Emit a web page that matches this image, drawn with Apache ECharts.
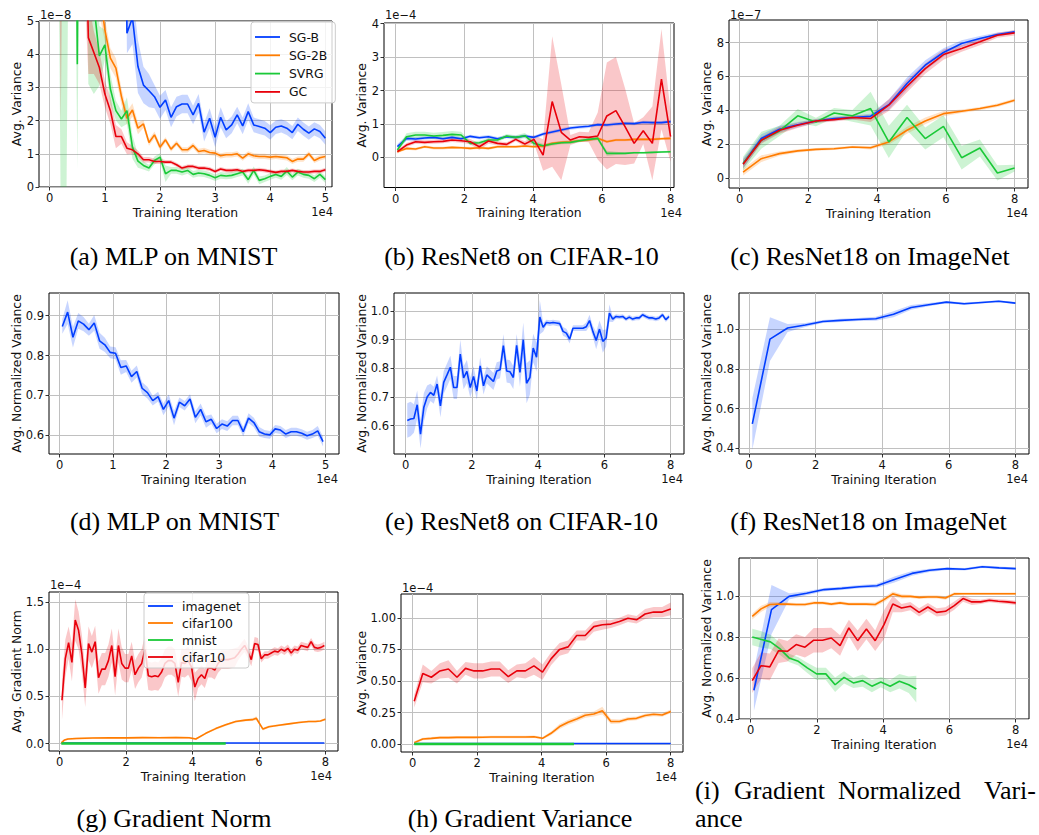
<!DOCTYPE html>
<html>
<head>
<meta charset="utf-8">
<script src="https://cdn.jsdelivr.net/npm/echarts@6/dist/echarts.min.js"></script>
<style>html,body{margin:0;padding:0;background:#fff}#c{width:1039px;height:835px}</style>
</head>
<body>
<div id="c"></div>
<script>
// ---------------- DATA (x in units of 1e4 iterations; y in the axis' offset units) ----------------
const X_TICKS_5 = [0,1,2,3,4,5];
const X_TICKS_8 = [0,2,4,6,8];
const Y_TICKS_A = [0,1,2,3,4,5];
const Y_TICKS_B = [0,1,2,3,4];
const Y_TICKS_C = [0,2,4,6,8];
const Y_TICKS_D = [0.6,0.7,0.8,0.9];
const Y_TICKS_E = [0.6,0.7,0.8,0.9,1.0];
const Y_TICKS_F = [0.4,0.6,0.8,1.0];
const Y_TICKS_G = [0,0.5,1.0,1.5];
const Y_TICKS_H = [0,0.25,0.5,0.75,1.0];
const Y_TICKS_I = [0.4,0.6,0.8,1.0];

// (a) MLP on MNIST, avg variance (1e-8)
const a_x = [0.1,0.2,0.3,0.4,0.5,0.6,0.7,0.8,0.9,1.0,1.1,1.2,1.3,1.4,1.5,1.6,1.7,1.8,1.9,2.0,2.1,2.2,2.3,2.4,2.5,2.6,2.7,2.8,2.9,3.0,3.1,3.2,3.3,3.4,3.5,3.6,3.7,3.8,3.9,4.0,4.1,4.2,4.3,4.4,4.5,4.6,4.7,4.8,4.9,5.0];
const a_sgb = [30,30,30,30,30,30,30,30,30,30,30,30,30,4.63,5.1,3.63,3.07,2.9,2.72,2.4,2.62,2.1,2.42,2.5,2.5,2.17,2.52,1.65,2.07,1.5,2.1,1.72,1.87,2.17,1.84,2.27,1.87,1.82,1.77,1.64,1.8,1.84,1.77,1.64,1.89,1.74,1.62,1.75,1.67,1.47];
const a_sgb_sd = [10,10,10,10,10,10,10,10,10,10,10,10,10,0.6,0.8,0.8,0.55,0.5,0.35,0.35,0.3,0.3,0.3,0.28,0.28,0.28,0.28,0.28,0.3,0.3,0.3,0.25,0.25,0.25,0.25,0.25,0.22,0.22,0.22,0.22,0.2,0.2,0.2,0.2,0.2,0.2,0.2,0.2,0.2,0.2];
const a_sg2b = [30,30,30,30,30,30,30,30,6,4.73,3.88,3.58,2.73,2.07,2.32,1.77,1.9,1.34,1.57,1.2,1.42,1.14,1.32,1.12,1.12,1.25,1.07,1.1,1.04,1.02,0.94,0.97,0.97,1.0,0.87,1.0,0.94,0.92,0.92,0.9,0.92,0.9,0.88,0.77,0.84,0.84,1.0,0.8,0.88,0.92];
const a_sg2b_sd = [10,10,10,10,10,10,10,10,0.8,0.35,0.3,0.3,0.25,0.2,0.2,0.18,0.12,0.1,0.1,0.1,0.08,0.08,0.08,0.08,0.08,0.08,0.08,0.08,0.08,0.08,0.08,0.08,0.08,0.08,0.08,0.08,0.08,0.08,0.08,0.08,0.08,0.08,0.08,0.08,0.08,0.08,0.08,0.08,0.08,0.08];
const a_svrg = [30,30,30,30,3.7,30,8,5.5,3.95,4.28,2.95,2.3,2.05,2.3,1.2,0.78,0.65,0.57,0.8,0.9,0.4,0.5,0.5,0.45,0.5,0.38,0.42,0.4,0.35,0.28,0.35,0.33,0.35,0.4,0.45,0.22,0.5,0.2,0.25,0.32,0.38,0.32,0.48,0.3,0.45,0.38,0.35,0.25,0.38,0.22];
const a_svrg_sd = [10,31,31,10,3.2,10,4.9,2.7,0.9,0.45,0.45,0.3,0.25,0.4,0.35,0.2,0.12,0.1,0.12,0.12,0.25,0.1,0.1,0.1,0.1,0.1,0.1,0.1,0.1,0.1,0.1,0.1,0.1,0.1,0.1,0.12,0.12,0.12,0.1,0.1,0.1,0.1,0.12,0.1,0.1,0.1,0.1,0.1,0.1,0.1];
const a_gc = [30,30,30,30,30,12,4.5,4.05,3.6,2.8,2.3,1.52,1.52,1.17,1.12,1.0,0.82,0.82,0.77,0.77,0.75,0.75,0.67,0.57,0.62,0.62,0.57,0.57,0.54,0.47,0.54,0.5,0.5,0.52,0.47,0.5,0.5,0.52,0.5,0.47,0.44,0.47,0.47,0.5,0.47,0.45,0.45,0.47,0.47,0.52];
const a_gc_sd = [10,28.1,10,10,10,5,1.1,0.65,0.5,0.4,0.4,0.35,0.22,0.18,0.12,0.1,0.08,0.08,0.08,0.08,0.06,0.06,0.06,0.06,0.06,0.06,0.06,0.06,0.06,0.06,0.06,0.06,0.06,0.06,0.06,0.06,0.06,0.06,0.06,0.06,0.06,0.06,0.06,0.06,0.06,0.06,0.06,0.06,0.06,0.06];

// (b) ResNet8 on CIFAR-10, avg variance (1e-4)
const b_x = [0.05,0.315,0.58,0.845,1.11,1.375,1.64,1.905,2.17,2.435,2.7,2.965,3.23,3.495,3.76,4.025,4.29,4.555,4.82,5.085,5.35,5.615,5.88,6.145,6.41,6.675,6.94,7.205,7.47,7.735,8.0];
const b_sgb = [0.32,0.57,0.55,0.58,0.6,0.56,0.6,0.56,0.63,0.59,0.62,0.56,0.62,0.6,0.64,0.6,0.7,0.76,0.82,0.88,0.91,0.93,0.98,0.97,1.0,1.02,1.01,1.05,1.04,1.04,1.07];
const b_sgb_sd = [0.08,0.07,0.06,0.05,0.05,0.05,0.05,0.05,0.05,0.05,0.05,0.05,0.05,0.05,0.05,0.05,0.05,0.05,0.05,0.05,0.05,0.05,0.05,0.05,0.05,0.05,0.05,0.05,0.05,0.05,0.05];
const b_sg2b = [0.17,0.27,0.25,0.32,0.28,0.28,0.3,0.29,0.27,0.29,0.27,0.32,0.32,0.32,0.34,0.32,0.34,0.42,0.45,0.47,0.5,0.52,0.57,0.47,0.52,0.52,0.54,0.54,0.54,0.56,0.57];
const b_sg2b_sd = [0.04,0.04,0.04,0.04,0.04,0.04,0.04,0.04,0.04,0.04,0.04,0.04,0.04,0.04,0.04,0.04,0.04,0.04,0.04,0.04,0.04,0.04,0.04,0.04,0.04,0.04,0.04,0.04,0.04,0.04,0.04];
const b_svrg = [0.22,0.62,0.67,0.67,0.64,0.66,0.69,0.67,0.42,0.44,0.52,0.52,0.64,0.6,0.65,0.42,0.35,0.4,0.44,0.45,0.5,0.54,0.57,0.12,0.12,0.12,0.14,0.14,0.15,0.16,0.17];
const b_svrg_sd = [0.05,0.1,0.1,0.1,0.1,0.1,0.1,0.1,0.06,0.06,0.06,0.06,0.06,0.06,0.08,0.08,0.06,0.05,0.05,0.05,0.05,0.06,0.06,0.08,0.05,0.03,0.03,0.03,0.03,0.03,0.03];
const b_gc = [0.17,0.37,0.47,0.45,0.47,0.48,0.52,0.5,0.47,0.32,0.49,0.42,0.39,0.54,0.4,0.54,0.07,1.67,0.75,0.52,0.62,0.6,0.64,1.24,1.4,0.92,0.42,0.8,0.42,2.34,0.62];
const b_gc_sd = [0.05,0.06,0.06,0.06,0.06,0.06,0.06,0.06,0.08,0.1,0.08,0.06,0.06,0.06,0.08,0.12,0.47,1.95,1.43,0.15,0.15,0.15,0.7,1.6,1.6,1.15,0.6,0.4,1.1,1.5,0.75];

// (c) ResNet18 on ImageNet, avg variance (1e-7)
const c_x = [0.1,0.63,1.16,1.69,2.22,2.75,3.28,3.81,4.34,4.87,5.4,5.93,6.46,6.99,7.5,8.0];
const c_sgb = [0.85,2.33,2.88,3.15,3.37,3.51,3.57,3.65,4.33,5.58,6.66,7.41,7.94,8.24,8.47,8.63];
const c_sgb_sd = [0.3,0.25,0.2,0.15,0.12,0.12,0.12,0.15,0.3,0.35,0.3,0.25,0.2,0.15,0.12,0.1];
const c_sg2b = [0.35,1.14,1.44,1.6,1.69,1.73,1.83,1.79,2.13,2.82,3.37,3.8,3.94,4.1,4.3,4.59];
const c_sg2b_sd = [0.2,0.2,0.12,0.1,0.08,0.08,0.08,0.1,0.15,0.2,0.2,0.15,0.1,0.1,0.1,0.1];
const c_svrg = [0.85,2.23,2.78,3.67,3.31,3.84,3.67,4.1,2.13,3.57,2.33,3.05,1.2,1.77,0.3,0.59];
const c_svrg_sd = [0.4,0.5,0.3,0.4,0.25,0.3,0.35,1.0,0.95,0.75,0.65,0.65,0.7,0.5,0.45,0.2];
const c_gc = [0.81,2.23,2.82,3.11,3.37,3.45,3.57,3.51,4.3,5.42,6.46,7.29,7.65,8.04,8.43,8.57];
const c_gc_sd = [0.25,0.2,0.2,0.15,0.12,0.12,0.12,0.2,0.35,0.35,0.3,0.3,0.2,0.2,0.15,0.15];

// (d) MLP on MNIST, avg normalized variance
const d_x = [0.05,0.15,0.25,0.35,0.45,0.55,0.65,0.75,0.85,0.95,1.05,1.15,1.25,1.35,1.45,1.55,1.65,1.75,1.85,1.95,2.05,2.15,2.25,2.35,2.45,2.55,2.65,2.75,2.85,2.95,3.05,3.15,3.25,3.35,3.45,3.55,3.65,3.75,3.85,3.95,4.05,4.15,4.25,4.35,4.45,4.55,4.65,4.75,4.85,4.95];
const d_val = [0.873,0.909,0.846,0.887,0.879,0.865,0.882,0.837,0.827,0.808,0.806,0.770,0.774,0.747,0.760,0.718,0.707,0.687,0.697,0.665,0.687,0.643,0.683,0.674,0.691,0.645,0.665,0.634,0.640,0.617,0.628,0.623,0.637,0.637,0.609,0.643,0.632,0.609,0.603,0.601,0.616,0.613,0.603,0.609,0.609,0.605,0.599,0.603,0.611,0.584];
const d_sd = [0.018,0.03,0.026,0.02,0.018,0.015,0.02,0.02,0.018,0.015,0.015,0.018,0.015,0.015,0.015,0.015,0.015,0.012,0.012,0.015,0.015,0.018,0.012,0.012,0.012,0.015,0.015,0.015,0.012,0.012,0.012,0.012,0.012,0.012,0.012,0.012,0.012,0.012,0.01,0.01,0.01,0.01,0.01,0.01,0.01,0.01,0.01,0.01,0.012,0.012];

// (e) ResNet8 on CIFAR-10, avg normalized variance
const e_x = [0.05,0.15,0.25,0.35,0.45,0.55,0.65,0.75,0.85,0.95,1.05,1.15,1.25,1.35,1.45,1.55,1.65,1.75,1.85,1.95,2.05,2.15,2.25,2.35,2.45,2.55,2.65,2.75,2.85,2.95,3.05,3.15,3.25,3.35,3.45,3.55,3.65,3.75,3.85,3.95,4.05,4.15,4.25,4.35,4.45,4.55,4.65,4.75,4.85,4.95,5.05,5.15,5.25,5.35,5.45,5.55,5.65,5.75,5.85,5.95,6.05,6.15,6.25,6.35,6.45,6.55,6.65,6.75,6.85,6.95,7.05,7.15,7.25,7.35,7.45,7.55,7.65,7.75,7.85,7.95];
const e_val = [0.618,0.623,0.625,0.673,0.57,0.664,0.70,0.716,0.706,0.745,0.669,0.751,0.777,0.804,0.733,0.733,0.85,0.767,0.789,0.733,0.772,0.721,0.809,0.739,0.777,0.766,0.754,0.791,0.795,0.879,0.791,0.788,0.768,0.88,0.786,0.90,0.748,0.768,0.871,0.839,0.979,0.943,0.96,0.958,0.96,0.958,0.956,0.929,0.923,0.902,0.94,0.94,0.94,0.94,0.945,0.967,0.929,0.897,0.937,0.894,0.906,0.993,0.972,0.981,0.979,0.981,0.972,0.979,0.972,0.976,0.976,0.987,0.981,0.976,0.976,0.972,0.976,0.987,0.97,0.981];
const e_sd = [0.06,0.06,0.05,0.05,0.05,0.05,0.04,0.03,0.03,0.03,0.04,0.04,0.04,0.04,0.04,0.04,0.05,0.04,0.04,0.035,0.035,0.03,0.03,0.03,0.03,0.03,0.03,0.03,0.03,0.04,0.04,0.04,0.04,0.04,0.05,0.06,0.07,0.06,0.05,0.05,0.06,0.015,0.01,0.01,0.01,0.01,0.01,0.015,0.015,0.015,0.01,0.01,0.01,0.01,0.015,0.02,0.02,0.03,0.03,0.04,0.03,0.03,0.01,0.008,0.008,0.008,0.008,0.008,0.008,0.008,0.008,0.008,0.008,0.008,0.008,0.008,0.008,0.008,0.008,0.008];

// (f) ResNet18 on ImageNet, avg normalized variance (x = c_x)
const f_val = [0.523,0.951,1.007,1.022,1.04,1.046,1.05,1.054,1.077,1.111,1.125,1.138,1.13,1.136,1.142,1.133];
const f_sd = [0.13,0.11,0.02,0.01,0.008,0.008,0.008,0.01,0.015,0.012,0.008,0.006,0.006,0.005,0.005,0.005];

// (g) Gradient norm (1e-4)
const g_x = [0.07,0.17,0.27,0.37,0.47,0.57,0.67,0.77,0.87,0.97,1.07,1.17,1.27,1.37,1.47,1.57,1.67,1.77,1.87,1.97,2.07,2.17,2.27,2.37,2.47,2.57,2.67,2.77,2.87,2.97,3.07,3.17,3.27,3.37,3.47,3.57,3.67,3.77,3.87,3.97,4.07,4.17,4.27,4.37,4.47,4.57,4.67,4.77,4.87,4.97,5.07,5.17,5.27,5.37,5.47,5.57,5.67,5.77,5.87,5.97,6.07,6.17,6.27,6.37,6.47,6.57,6.67,6.77,6.87,6.97,7.07,7.17,7.27,7.37,7.47,7.57,7.67,7.77,7.87,7.97];
const g_cifar10 = [0.46,0.90,1.07,0.86,1.31,1.20,0.95,0.59,1.06,0.97,1.08,0.70,0.79,0.79,0.88,1.04,0.71,1.04,0.85,0.80,0.80,0.93,0.73,0.80,0.85,1.00,0.72,0.71,0.72,0.71,0.76,0.85,0.88,0.88,0.85,0.65,0.86,0.85,0.88,0.81,0.60,0.69,0.73,0.69,0.80,0.80,0.78,0.85,0.89,0.89,0.89,0.90,0.91,0.95,1.00,1.04,0.97,0.89,1.06,1.05,0.90,0.94,0.94,0.96,0.98,0.97,1.00,0.98,1.01,0.96,1.00,0.99,1.04,1.03,1.02,1.08,1.02,1.01,1.02,1.04];
const g_cifar10_sd = [0.21,0.2,0.17,0.2,0.22,0.2,0.2,0.2,0.18,0.17,0.17,0.17,0.17,0.17,0.17,0.18,0.2,0.18,0.17,0.15,0.15,0.15,0.15,0.15,0.15,0.15,0.15,0.15,0.15,0.15,0.15,0.15,0.15,0.15,0.15,0.15,0.15,0.15,0.15,0.15,0.15,0.1,0.1,0.1,0.1,0.1,0.1,0.1,0.1,0.1,0.1,0.1,0.1,0.07,0.07,0.07,0.07,0.07,0.07,0.07,0.04,0.04,0.04,0.04,0.04,0.04,0.04,0.04,0.04,0.04,0.04,0.04,0.04,0.04,0.04,0.04,0.04,0.04,0.04,0.04];
const g_c100_x = [0.05,0.15,0.25,0.5,1.0,1.5,2.0,2.5,3.0,3.5,3.9,4.1,4.4,4.7,5.0,5.3,5.6,5.8,5.92,6.12,6.3,6.6,6.9,7.2,7.5,7.7,7.85,8.0];
const g_cifar100 = [0.01,0.04,0.05,0.055,0.06,0.062,0.062,0.065,0.064,0.066,0.063,0.05,0.11,0.16,0.2,0.235,0.25,0.255,0.27,0.155,0.18,0.195,0.21,0.225,0.235,0.235,0.24,0.26];
const g_cifar100_sd = [0.01,0.01,0.01,0.01,0.01,0.01,0.01,0.01,0.01,0.01,0.01,0.01,0.01,0.012,0.012,0.012,0.012,0.015,0.02,0.015,0.012,0.01,0.01,0.01,0.01,0.01,0.01,0.012];
const g_imagenet_x = [0.07,2.0,4.0,6.0,7.97];
const g_imagenet = [0.006,0.006,0.007,0.007,0.007];
const g_mnist_x = [0.05,2.5,5.0];
const g_mnist = [0.002,0.002,0.002];

// (h) Gradient variance (1e-4), x = b_x
const h_cifar10 = [0.34,0.56,0.53,0.58,0.595,0.53,0.6,0.58,0.58,0.595,0.595,0.535,0.58,0.58,0.62,0.57,0.675,0.75,0.77,0.86,0.86,0.93,0.945,0.95,0.97,0.997,0.984,1.03,1.045,1.045,1.07];
const h_cifar10_sd = [0.05,0.07,0.05,0.06,0.07,0.05,0.05,0.06,0.06,0.06,0.06,0.05,0.05,0.06,0.07,0.06,0.05,0.05,0.05,0.04,0.04,0.04,0.04,0.03,0.03,0.03,0.03,0.04,0.04,0.04,0.05];
const h_cifar100 = [0.013,0.042,0.047,0.053,0.053,0.055,0.055,0.055,0.056,0.057,0.057,0.058,0.058,0.058,0.06,0.047,0.087,0.14,0.174,0.2,0.23,0.24,0.266,0.18,0.18,0.2,0.205,0.227,0.237,0.232,0.26];
const h_cifar100_sd = [0.01,0.01,0.01,0.01,0.01,0.01,0.01,0.01,0.01,0.01,0.01,0.01,0.01,0.01,0.01,0.01,0.015,0.02,0.02,0.02,0.02,0.02,0.03,0.02,0.015,0.015,0.015,0.015,0.015,0.015,0.015];
const h_imagenet_x = [0.05,2.0,4.0,6.0,8.0];
const h_imagenet = [0.005,0.005,0.006,0.006,0.006];
const h_mnist_x = [0.05,2.5,5.0];
const h_mnist = [0.002,0.002,0.002];

// (i) Gradient normalized variance
const i_imagenet = [0.54,0.933,0.998,1.013,1.031,1.037,1.045,1.05,1.08,1.11,1.125,1.133,1.13,1.142,1.137,1.133];
const i_imagenet_sd = [0.1,0.12,0.015,0.01,0.008,0.008,0.008,0.01,0.015,0.012,0.008,0.006,0.006,0.006,0.006,0.006];
const i_cifar100 = [0.9,0.937,0.958,0.96,0.96,0.958,0.958,0.966,0.966,0.96,0.966,0.96,0.96,0.96,0.958,0.982,1.01,0.998,0.998,0.993,0.995,0.995,0.99,1.01,1.011,1.011,1.011,1.011,1.011,1.011,1.011];
const i_cifar100_sd = [0.015,0.015,0.012,0.01,0.008,0.008,0.008,0.008,0.008,0.008,0.008,0.008,0.008,0.008,0.01,0.012,0.012,0.01,0.008,0.008,0.008,0.008,0.008,0.008,0.006,0.006,0.006,0.006,0.006,0.006,0.006];
const i_cifar10 = [0.587,0.66,0.654,0.733,0.73,0.763,0.75,0.784,0.784,0.795,0.758,0.844,0.782,0.839,0.782,0.86,0.961,0.941,0.95,0.92,0.946,0.92,0.925,0.953,0.987,0.971,0.971,0.979,0.974,0.971,0.966];
const i_cifar10_sd = [0.06,0.065,0.065,0.06,0.05,0.05,0.05,0.06,0.06,0.05,0.05,0.04,0.05,0.05,0.05,0.07,0.04,0.02,0.02,0.02,0.02,0.02,0.02,0.02,0.015,0.015,0.01,0.01,0.01,0.01,0.01];
const i_mnist_x = [0.05,0.33,0.6,0.88,1.16,1.44,1.71,1.99,2.27,2.55,2.82,3.1,3.38,3.66,3.93,4.21,4.49,4.77,5.0];
const i_mnist = [0.80,0.788,0.776,0.743,0.698,0.681,0.649,0.62,0.62,0.567,0.603,0.576,0.587,0.56,0.58,0.56,0.584,0.567,0.546];
const i_mnist_sd = [0.04,0.04,0.035,0.03,0.02,0.02,0.025,0.03,0.03,0.035,0.03,0.025,0.03,0.03,0.025,0.03,0.035,0.04,0.065];

const LEGEND_A = ['SG-B','SG-2B','SVRG','GC'];
const LEGEND_G = ['imagenet','cifar100','mnist','cifar10'];
const CAPTIONS = ['(a) MLP on MNIST','(b) ResNet8 on CIFAR-10','(c) ResNet18 on ImageNet','(d) MLP on MNIST','(e) ResNet8 on CIFAR-10','(f) ResNet18 on ImageNet','(g) Gradient Norm','(h) Gradient Variance'];
const CAPTION_I = ['(i)','Gradient','Normalized','Vari-','ance'];

// ---------------- STYLE / LAYOUT ----------------
const BLUE='#023eff', ORANGE='#ff7c00', GREEN='#1ac938', RED='#e8000b';
const FONT='DejaVu Sans';
const FS_TICK=11.5, FS_NAME=12.4;
const P = [
 {g:[39,21,293,166], x:[-0.195,5.12], xt:X_TICKS_5, y:[0,5], yt:Y_TICKS_A, yd:0, yn:'Avg. Variance', yg:15.8, yo:'1e\u22128', yoy:14.5, xoR:333},
 {g:[384,23,290,164.5], x:[-0.34,8.1], xt:X_TICKS_8, y:[-0.9,4.02], yt:Y_TICKS_B, yd:0, yn:'Avg. Variance', yg:15.8, yo:'1e\u22124', yoy:14.5, xoR:682},
 {g:[729,20,299,168], x:[-0.31,8.39], xt:X_TICKS_8, y:[-0.59,9.33], yt:Y_TICKS_C, yd:0, yn:'Avg. Variance', yg:15.8, yo:'1e\u22127', yoy:14.5, xoR:1028},
 {g:[49,293,290,161], x:[-0.2,5.25], xt:X_TICKS_5, y:[0.553,0.957], yt:Y_TICKS_D, yd:1, yn:'Avg. Normalized Variance', yg:25.8, xoR:338},
 {g:[394,293,290,161], x:[-0.35,8.4], xt:X_TICKS_8, y:[0.501,1.063], yt:Y_TICKS_E, yd:1, yn:'Avg. Normalized Variance', yg:25.8, xoR:683},
 {g:[739,293,290,161], x:[-0.3,8.41], xt:X_TICKS_8, y:[0.371,1.184], yt:Y_TICKS_F, yd:1, yn:'Avg. Normalized Variance', yg:25.8, xoR:1028},
 {g:[49,592,289,159], x:[-0.32,8.38], xt:X_TICKS_8, y:[-0.077,1.606], yt:Y_TICKS_G, yd:1, yn:'Avg. Gradient Norm', yg:26.5, yo:'1e\u22124', yoy:584.5, xoR:332},
 {g:[401,594,282,158], x:[-0.36,8.38], xt:X_TICKS_8, y:[-0.061,1.188], yt:Y_TICKS_H, yd:2, yn:'Avg. Variance', yg:32.8, yo:'1e\u22124', yoy:587.5, xoR:677},
 {g:[739,558,290,161], x:[-0.35,8.4], xt:X_TICKS_8, y:[0.4,1.185], yt:Y_TICKS_I, yd:1, yn:'Avg. Normalized Variance', yg:25.8, xoR:1028}
];
const CAP_POS = [[173.5,256],[521.5,256],[870,256],[174.5,521],[521.5,521],[868.5,521],[174,818],[520,818]];

const tickTxt = {fontFamily:FONT, fontSize:FS_TICK, color:'#111', lineHeight:12};
const nameTxt = {fontFamily:FONT, fontSize:FS_NAME, color:'#111', lineHeight:13};
const grids=[], xAxes=[], yAxes=[], series=[], graphic=[];
P.forEach((p,i)=>{
  grids.push({left:p.g[0], top:p.g[1], width:p.g[2], height:p.g[3], show:true, borderColor:'#000', borderWidth:1, backgroundColor:'transparent', containLabel:false, outerBoundsMode:'none'});
  xAxes.push({gridIndex:i, type:'value', min:p.x[0], max:p.x[1],
    axisLine:{show:false, onZero:false},
    axisTick:{show:true, length:3.5, lineStyle:{color:'#000', width:0.8}, customValues:p.xt},
    axisLabel:{customValues:p.xt, formatter:v=>Number(v).toFixed(0), margin:5, ...tickTxt},
    splitLine:{show:true, lineStyle:{color:'#c0c0c0', width:1}},
    name:'Training Iteration', nameLocation:'middle', nameGap:18.5, nameMoveOverlap:false, nameTextStyle:{...nameTxt}});
  yAxes.push({gridIndex:i, type:'value', min:p.y[0], max:p.y[1],
    axisLine:{show:false, onZero:false},
    axisTick:{show:true, length:3.5, lineStyle:{color:'#000', width:0.8}, customValues:p.yt},
    axisLabel:{customValues:p.yt, formatter:v=>Number(v).toFixed(p.yd), margin:5, ...tickTxt},
    splitLine:{show:true, lineStyle:{color:'#c0c0c0', width:1}},
    name:p.yn, nameLocation:'middle', nameGap:p.yg, nameMoveOverlap:false, nameTextStyle:{...nameTxt}});
  if (p.yo) graphic.push({type:'text', x:p.g[0]+1, y:p.yoy, style:{text:p.yo, fontFamily:FONT, fontSize:FS_TICK, fill:'#111', align:'left', verticalAlign:'middle'}});
  graphic.push({type:'text', x:p.xoR, y:p.g[1]+p.g[3]+25, style:{text:'1e4', fontFamily:FONT, fontSize:FS_TICK, fill:'#111', align:'right', verticalAlign:'middle'}});
});
CAPTIONS.forEach((t,i)=>graphic.push({type:'text', x:CAP_POS[i][0], y:CAP_POS[i][1], style:{text:t, fontFamily:'Liberation Serif', fontSize:26, fill:'#000', align:'center', verticalAlign:'middle'}}));
const capI = [[695,790,'left'],[734,790,'left'],[838,790,'left'],[1036,790,'right'],[695,818,'left']];
CAPTION_I.forEach((t,i)=>graphic.push({type:'text', x:capI[i][0], y:capI[i][1], style:{text:t, fontFamily:'Liberation Serif', fontSize:26, fill:'#000', align:capI[i][2], verticalAlign:'middle'}}));

function band(gi, xs, ys, sd, color){
  return {type:'custom', xAxisIndex:gi, yAxisIndex:gi, silent:true, clip:true, z:1, animation:false,
    itemStyle:{color}, data:[[xs[0], ys[0]]],
    renderItem(params, api){
      const pts=[];
      for(let k=0;k<xs.length;k++) pts.push(api.coord([xs[k], ys[k]+sd[k]]));
      for(let k=xs.length-1;k>=0;k--) pts.push(api.coord([xs[k], ys[k]-sd[k]]));
      return {type:'polygon', shape:{points:pts}, style:{fill:color, opacity:0.22, stroke:null}};
    }};
}
function line(gi, name, xs, ys, color, w){
  return {type:'line', name, xAxisIndex:gi, yAxisIndex:gi, data:xs.map((x,k)=>[x, ys[k]]),
    symbol:'none', showSymbol:false, clip:true, z:3, silent:true, animation:false,
    lineStyle:{color, width:w||1.6}, itemStyle:{color}, emphasis:{disabled:true}};
}
function add(gi, name, xs, ys, sd, color, w){
  if (sd) series.push(band(gi, xs, ys, sd, color));
  series.push(line(gi, name, xs, ys, color, w));
}
// (a)
add(0,'SG-B',a_x,a_sgb,a_sgb_sd,BLUE); add(0,'SG-2B',a_x,a_sg2b,a_sg2b_sd,ORANGE);
add(0,'SVRG',a_x,a_svrg,a_svrg_sd,GREEN); add(0,'GC',a_x,a_gc,a_gc_sd,RED);
// (b)
add(1,'SG-B',b_x,b_sgb,b_sgb_sd,BLUE); add(1,'SG-2B',b_x,b_sg2b,b_sg2b_sd,ORANGE);
add(1,'SVRG',b_x,b_svrg,b_svrg_sd,GREEN); add(1,'GC',b_x,b_gc,b_gc_sd,RED);
// (c)
add(2,'SG-B',c_x,c_sgb,c_sgb_sd,BLUE); add(2,'SG-2B',c_x,c_sg2b,c_sg2b_sd,ORANGE);
add(2,'SVRG',c_x,c_svrg,c_svrg_sd,GREEN); add(2,'GC',c_x,c_gc,c_gc_sd,RED);
// (d)(e)(f)
add(3,'SG-B',d_x,d_val,d_sd,BLUE);
add(4,'SG-B',e_x,e_val,e_sd,BLUE);
add(5,'SG-B',c_x,f_val,f_sd,BLUE);
// (g)
add(6,'imagenet',g_imagenet_x,g_imagenet,null,BLUE);
add(6,'cifar100',g_c100_x,g_cifar100,g_cifar100_sd,ORANGE);
add(6,'mnist',g_mnist_x,g_mnist,null,GREEN,2.4);
add(6,'cifar10',g_x,g_cifar10,g_cifar10_sd,RED);
// (h)
add(7,'imagenet',h_imagenet_x,h_imagenet,null,BLUE);
add(7,'cifar100',b_x,h_cifar100,h_cifar100_sd,ORANGE);
add(7,'mnist',h_mnist_x,h_mnist,null,GREEN,2.4);
add(7,'cifar10',b_x,h_cifar10,h_cifar10_sd,RED);
// (i)
add(8,'imagenet',c_x,i_imagenet,i_imagenet_sd,BLUE);
add(8,'cifar100',b_x,i_cifar100,i_cifar100_sd,ORANGE);
add(8,'mnist',i_mnist_x,i_mnist,i_mnist_sd,GREEN);
add(8,'cifar10',b_x,i_cifar10,i_cifar10_sd,RED);

const legendBase = {orient:'vertical', itemWidth:25, itemHeight:1.8, icon:'rect', selectedMode:false,
  backgroundColor:'rgba(255,255,255,0.8)', borderColor:'#cccccc', borderWidth:1, borderRadius:3,
  textStyle:{fontFamily:FONT, fontSize:FS_NAME, color:'#111', lineHeight:14, padding:[0,0,0,4]}};
const chart = echarts.init(document.getElementById('c'), null, {renderer:'svg'});
chart.setOption({
  animation:false, backgroundColor:'#fff',
  grid:grids, xAxis:xAxes, yAxis:yAxes, series, graphic,
  legend:[
    {...legendBase, left:251, top:22, itemGap:4.3, padding:[8,8,4,4], data:LEGEND_A},
    {...legendBase, left:144, top:593, itemGap:3, padding:[6,8,4,4], data:LEGEND_G}
  ]
});
</script>
</body>
</html>
